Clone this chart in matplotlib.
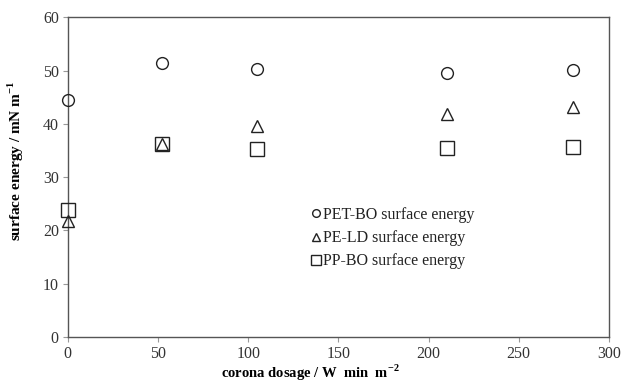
import matplotlib
matplotlib.use("Agg")
import matplotlib.pyplot as plt

dosage = [0, 52.5, 105, 210, 280]
pet_bo = [44.5, 51.4, 50.4, 49.6, 50.2]
pe_ld = [21.8, 36.2, 39.7, 41.8, 43.1]
pp_bo = [23.8, 36.2, 35.3, 35.4, 35.6]
labels = ["PET-BO surface energy", "PE-LD surface energy", "PP-BO surface energy"]

plt.rcParams['font.family'] = ['Liberation Serif', 'DejaVu Serif']
plt.rcParams['mathtext.fontset'] = 'custom'
plt.rcParams['mathtext.rm'] = 'Liberation Serif'
plt.rcParams['mathtext.bf'] = 'Liberation Serif:bold'
fig = plt.figure(figsize=(6.22, 3.86), dpi=100)
ax = fig.add_axes([0.109, 0.127, 0.870, 0.828])

ax.plot(dosage, pet_bo, 'o', ms=8.5, mfc='none', mec='#222222', mew=1.0, label=labels[0], clip_on=False, zorder=3)
ax.plot(dosage, pe_ld, '^', ms=8.5, mfc='none', mec='#222222', mew=1.0, label=labels[1], clip_on=False, zorder=3)
ax.plot(dosage, pp_bo, 's', ms=10, mfc='none', mec='#222222', mew=1.0, label=labels[2], clip_on=False, zorder=3)

ax.set_xlim(0, 300)
ax.set_ylim(0, 60)
ax.set_xticks(range(0, 301, 50))
ax.set_yticks(range(0, 61, 10))
for s in ax.spines.values():
    s.set_color('#555555')
    s.set_linewidth(1.0)
ax.tick_params(direction='out', length=3.5, width=0.8, color='#999999', labelsize=11.5, labelcolor='#333333', pad=3)

ax.set_xlabel(r'corona dosage / W  min  m$^{\mathbf{-2}}$', fontsize=10.5, fontweight='bold')
ax.set_ylabel(r'surface energy / mN m$^{\mathbf{-1}}$', fontsize=11, fontweight='bold')
ax.xaxis.set_label_coords(0.449, -0.08)
ax.yaxis.set_label_coords(-0.077, 0.55)

leg = ax.legend(loc='center left', bbox_to_anchor=(0.45, 0.309), frameon=False, fontsize=11.5,
                markerscale=0.65, handlelength=0.6, handletextpad=0.15, labelspacing=0.45, borderpad=0,
                borderaxespad=0)
for t in leg.get_texts():
    t.set_color('#222222')

fig.savefig('out.png', dpi=100)
